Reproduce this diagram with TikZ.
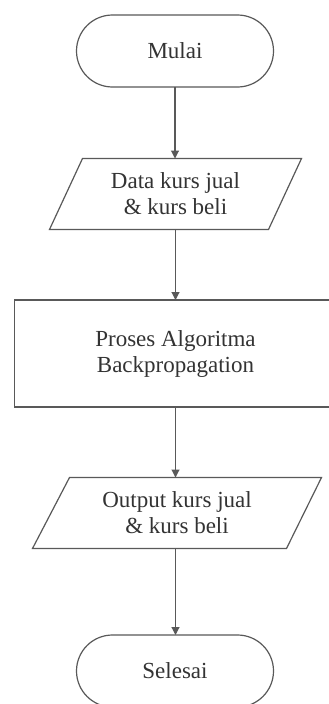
\documentclass[tikz,border=0pt]{standalone}
\usepackage{fontspec}
\setmainfont{Liberation Serif}
\usetikzlibrary{arrows.meta}
\begin{document}
\begin{tikzpicture}[x=1pt,y=-1pt,
  every node/.style={inner sep=0pt,outer sep=0pt,text=black!80,
    font=\fontsize{23}{26}\selectfont,align=center},
  terminal/.style={draw=black!65,line width=1.2pt,rounded corners=36pt,
    minimum width=197pt,minimum height=72pt},
  iobox/.style={minimum height=71pt},
  procbox/.style={draw=black!65,line width=1.2pt,minimum width=322pt,minimum height=107pt},
  shapeline/.style={draw=black!65,line width=1.2pt},
  flow/.style={draw=black!65,line width=1.1pt,-{Triangle[length=8pt,width=8pt]}}]
\useasboundingbox (0,0) rectangle (329,704);
\clip (0,0) rectangle (329,704);
\fill[white] (0,0) rectangle (329,704);
% nodes
\node[terminal] (mulai) at (175,51) {Mulai};
\node[iobox,minimum width=252pt] (data) at (175.5,194) {Data kurs jual\\\& kurs beli};
\node[procbox] (proses) at (175.5,353.5) {Proses Algoritma\\Backpropagation};
\node[iobox,minimum width=289pt] (output) at (177,513) {Output kurs jual\\\& kurs beli};
\node[terminal] (selesai) at (175,671) {Selesai};
% parallelogram outlines
\draw[shapeline] ([xshift=33pt]data.north west) -- (data.north east)
  -- ([xshift=-33pt]data.south east) -- (data.south west) -- cycle;
\draw[shapeline] ([xshift=37pt]output.north west) -- (output.north east)
  -- ([xshift=-35pt]output.south east) -- (output.south west) -- cycle;
% connectors
\draw[flow] (mulai.south) -- (mulai.south |- data.north);
\draw[flow] (data.south) -- (data.south |- proses.north);
\draw[flow] (proses.south) -- (proses.south |- output.north);
\draw[flow] (output.south -| proses.south) -- (proses.south |- selesai.north);
\end{tikzpicture}
\end{document}
